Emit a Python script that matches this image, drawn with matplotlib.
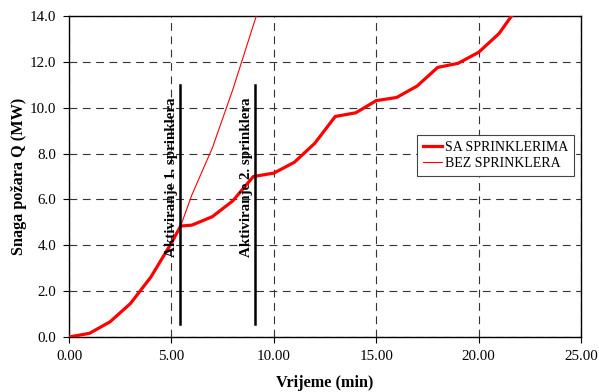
import numpy as np
import matplotlib
matplotlib.use("Agg")
import matplotlib.pyplot as plt

plt.rcParams['font.family'] = ['Liberation Serif', 'DejaVu Serif']

# --- Data ---
t_sa = [0, 1, 2, 3, 4, 5, 5.45, 6, 7, 8, 9, 10, 11, 12, 13, 14, 15, 16, 17, 18, 19, 20, 21, 22]
q_sa = [0, 0.16, 0.66, 1.46, 2.62, 4.1, 4.84, 4.88, 5.25, 5.94, 7.0, 7.15, 7.62, 8.45, 9.62,
        9.78, 10.31, 10.45, 10.95, 11.76, 11.94, 12.42, 13.24, 14.5]

t_bez = [0, 1, 2, 3, 4, 5, 5.45, 6, 7, 8, 9, 9.5]
q_bez = [0, 0.16, 0.66, 1.46, 2.62, 4.1, 4.84, 6.2, 8.25, 10.8, 13.6, 15.0]

sprinkler_t = [5.42, 9.1]
sprinkler_labels = ["Aktiviranje 1. sprinklera", "Aktiviranje 2. sprinklera"]
sprinkler_q = (0.55, 11.0)

# --- Plot ---
fig = plt.figure(figsize=(5.99, 3.92), dpi=100)
ax = fig.add_axes([0.1152, 0.1403, 0.8548, 0.8187])

ax.plot(t_sa, q_sa, color='#ff0000', linewidth=2.3, label='SA SPRINKLERIMA', zorder=4)
ax.plot(t_bez, q_bez, color='#ff0000', linewidth=0.8, label='BEZ SPRINKLERA', zorder=3)

for ts, lab in zip(sprinkler_t, sprinkler_labels):
    ax.plot([ts, ts], sprinkler_q, color='black', linewidth=1.8, zorder=5)
    ax.text(ts - 0.1, 6.95, lab, rotation=90, ha='right', va='center',
            fontsize=10.8, fontweight='bold', zorder=6)

ax.set_xlim(0, 25)
ax.set_ylim(0, 14)
ax.set_xticks(np.arange(0, 26, 5))
ax.set_yticks(np.arange(0, 15, 2))
ax.set_xticklabels([f"{v:.2f}" for v in np.arange(0, 26, 5)], fontsize=10.8)
ax.set_yticklabels([f"{v:.1f}" for v in np.arange(0, 15, 2)], fontsize=10.8)
ax.tick_params(direction='out', length=4, width=0.8, pad=5)

ax.grid(True, color='#333333', linestyle=(0, (7, 5)), linewidth=0.8)
ax.set_axisbelow(True)
for s in ax.spines.values():
    s.set_linewidth(1.0)

ax.set_xlabel("Vrijeme (min)", fontsize=11.7, fontweight='bold', labelpad=9)
ax.set_ylabel("Snaga požara Q (MW)", fontsize=11.7, fontweight='bold', labelpad=2)

leg = ax.legend(loc='upper left', bbox_to_anchor=(0.68, 0.629), fontsize=10,
                fancybox=False, framealpha=1, edgecolor='#444444', borderaxespad=0,
                handlelength=1.4, borderpad=0.4, labelspacing=0.25, handletextpad=0.2)
leg.get_frame().set_linewidth(0.8)

fig.savefig("out.png", dpi=100)
